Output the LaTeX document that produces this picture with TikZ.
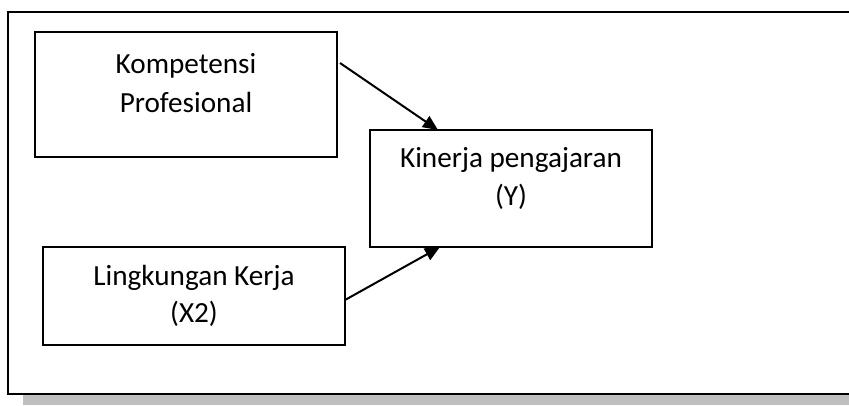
\documentclass[tikz,border=0pt]{standalone}
\usepackage{fontspec}
\setmainfont{Carlito}
\usetikzlibrary{arrows.meta}
\begin{document}
\begin{tikzpicture}[x=1pt,y=-1pt,
  box/.style={draw=black,line width=1.6pt,inner sep=0pt,outer sep=0pt},
  lbl/.style={anchor=base,inner sep=0pt,font=\fontsize{29.2}{38}\selectfont},
  conn/.style={line width=2pt,-{Triangle[length=15pt,width=13pt]}},
  frame/.style={draw=black,line width=2pt},
  shadowfill/.style={fill=black!25,draw=none}]
\useasboundingbox (0,0) rectangle (849,405);
% outer frame shadow and frame
\fill[shadowfill] (23,395) rectangle (849,405);
\draw[frame] (849,12) -- (8,12) -- (8,394) -- (849,394);
% boxes
\node[box,minimum width=302pt,minimum height=125pt] (k) at (186,94.5) {};
\node[box,minimum width=282pt,minimum height=117pt] (n) at (511,188.5) {};
\node[box,minimum width=302pt,minimum height=98pt] (l) at (194,296) {};
% labels
\node[lbl] (k1) at (186,73) {Kompetensi};
\node[lbl] (k2) at (186,112) {Profesional};
\node[lbl] (n1) at (511,167) {Kinerja pengajaran};
\node[lbl] (n2) at (511,205) {(Y)};
\node[lbl] (l1) at (194,285) {Lingkungan Kerja};
\node[lbl] (l2) at (194,322) {(X2)};
% connectors
\draw[conn] ([xshift=3pt,yshift=31.5pt]k.east) -- ([xshift=68pt]n.north west);
\draw[conn] ([yshift=-4pt]l.east) -- ([xshift=70pt]n.south west);
\end{tikzpicture}
\end{document}
